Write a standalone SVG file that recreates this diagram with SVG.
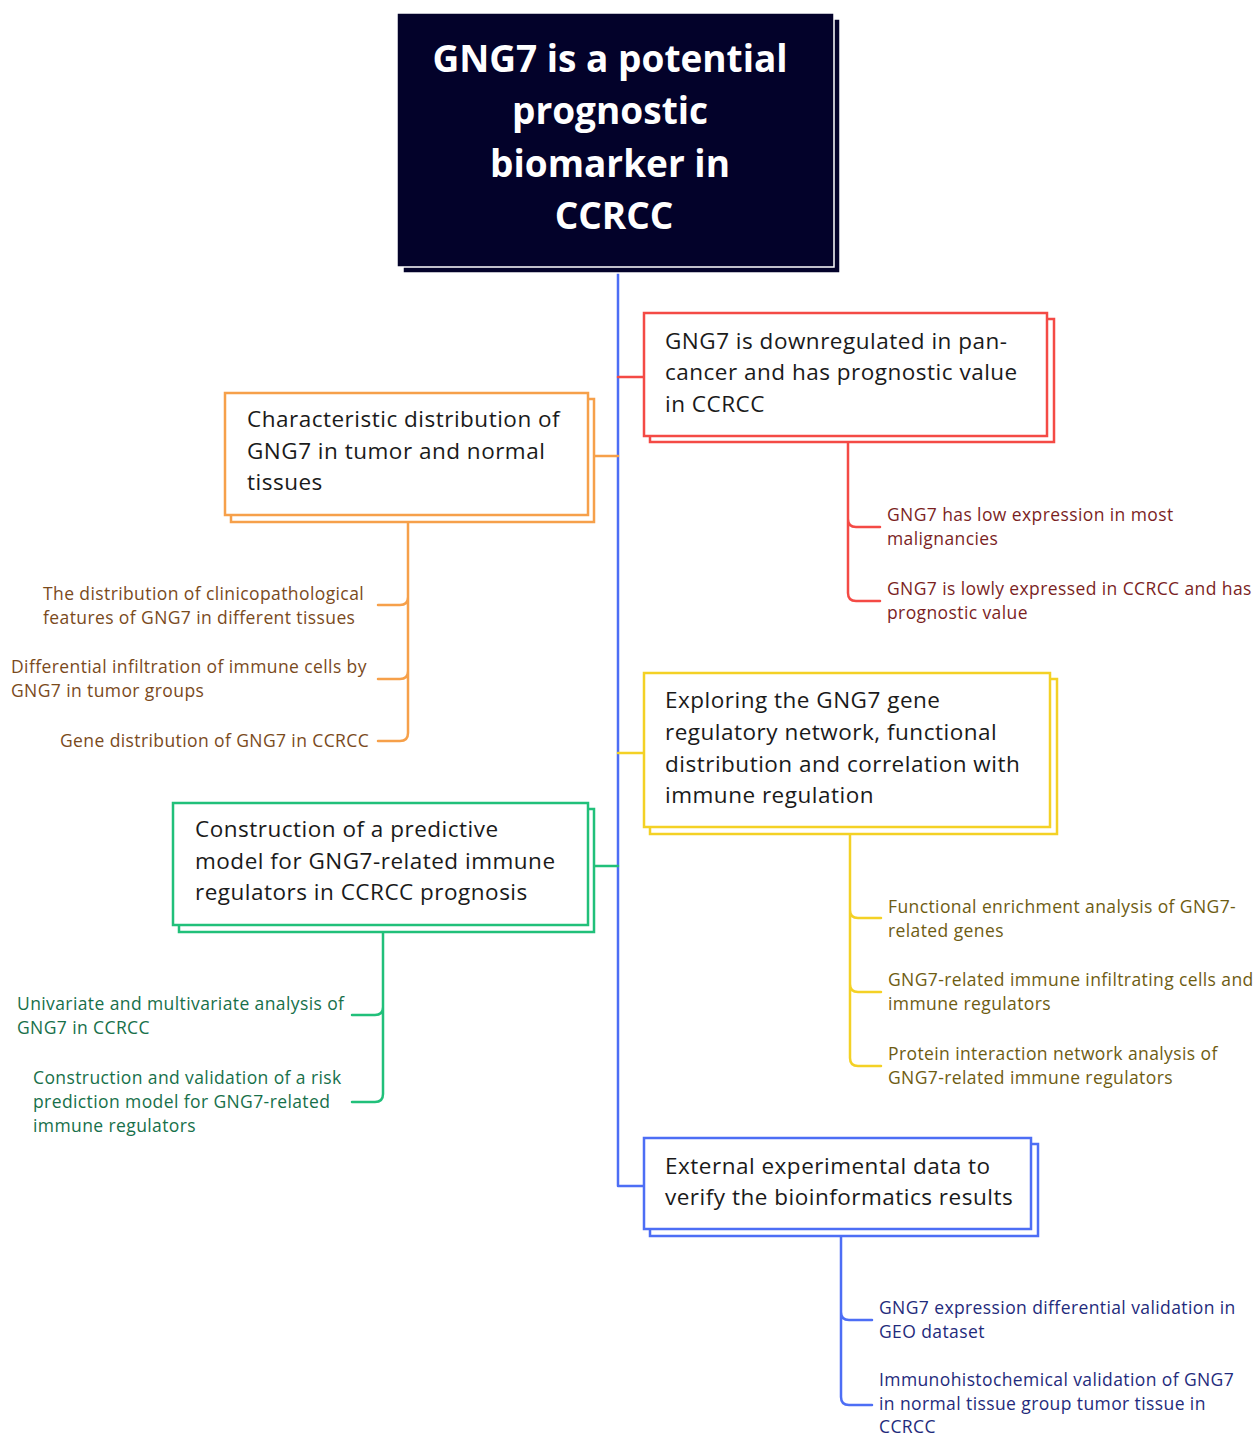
<svg xmlns="http://www.w3.org/2000/svg" width="1257" height="1438" viewBox="0 0 1257 1438">
<style>
text{font-family:"Open Sans","Noto Sans","Liberation Sans",sans-serif;}
.title{font-size:37px;font-weight:700;fill:#ffffff;text-anchor:middle;}
.main{font-size:22.5px;letter-spacing:0.5px;fill:#1a1a1a;}
.sub{font-size:17.5px;letter-spacing:0.4px;}
.ln{fill:none;stroke-width:2.5;stroke-linecap:round;stroke-linejoin:round;}
.box{fill:#ffffff;stroke-width:2.5;}
</style>
<rect width="1257" height="1438" fill="#ffffff"/>
<g id="connectors">
  <path class="ln" stroke="#4d6ef5" d="M618,271 V1186 H644"/>
  <path class="ln" stroke="#f44a45" d="M618,377 H644"/>
  <path class="ln" stroke="#f6a04a" d="M618,456 H594"/>
  <path class="ln" stroke="#f4d125" d="M618,753 H644"/>
  <path class="ln" stroke="#21c07a" d="M618,866 H594"/>
  <path class="ln" stroke="#f44a45" d="M848,443 V519 Q848,527 856,527 H880 M848,519 V593 Q848,601 856,601 H880"/>
  <path class="ln" stroke="#f6a04a" d="M408,522 V597 Q408,605 400,605 H378 M408,597 V671 Q408,679 400,679 H378 M408,671 V733 Q408,741 400,741 H378"/>
  <path class="ln" stroke="#f4d125" d="M850,834 V910 Q850,918 858,918 H881 M850,910 V984 Q850,992 858,992 H881 M850,984 V1058 Q850,1066 858,1066 H881"/>
  <path class="ln" stroke="#21c07a" d="M383,932 V1007 Q383,1015 375,1015 H352 M383,1007 V1094 Q383,1102 375,1102 H352"/>
  <path class="ln" stroke="#4d6ef5" d="M841,1236 V1312 Q841,1320 849,1320 H872 M841,1312 V1397 Q841,1405 849,1405 H872"/>
</g>
<g id="root">
  <rect x="403" y="19" width="437" height="254" fill="#03022a" stroke="#ffffff" stroke-width="1.5"/>
  <rect x="397" y="13" width="437" height="254" fill="#03022a" stroke="#ffffff" stroke-width="1.5"/>
  <text class="title" x="610" y="72">GNG7 is a potential</text>
  <text class="title" x="610" y="124">prognostic</text>
  <text class="title" x="610" y="177">biomarker in</text>
  <text class="title" x="614" y="229">CCRCC</text>
</g>
<g id="node-red">
  <rect class="box" x="650" y="319" width="404" height="123" stroke="#f44a45"/>
  <rect class="box" x="644" y="313" width="403" height="123" stroke="#f44a45"/>
  <text class="main" x="665" y="349">GNG7 is downregulated in pan-</text>
  <text class="main" x="665" y="380">cancer and has prognostic value</text>
  <text class="main" x="665" y="412">in CCRCC</text>
</g>
<g id="red-child-1"><text class="sub" fill="#7b1f1f" x="887" y="521">GNG7 has low expression in most</text><text class="sub" fill="#7b1f1f" x="887" y="545">malignancies</text></g>
<g id="red-child-2"><text class="sub" fill="#7b1f1f" x="887" y="595">GNG7 is lowly expressed in CCRCC and has</text><text class="sub" fill="#7b1f1f" x="887" y="619">prognostic value</text></g>
<g id="node-orange">
  <rect class="box" x="231" y="399" width="363" height="123" stroke="#f6a04a"/>
  <rect class="box" x="225" y="393" width="363" height="122" stroke="#f6a04a"/>
  <text class="main" x="247" y="427">Characteristic distribution of</text>
  <text class="main" x="247" y="459">GNG7 in tumor and normal</text>
  <text class="main" x="247" y="490">tissues</text>
</g>
<g id="orange-child-1"><text class="sub" fill="#7a4a1c" x="43" y="600">The distribution of clinicopathological</text><text class="sub" fill="#7a4a1c" x="43" y="624">features of GNG7 in different tissues</text></g>
<g id="orange-child-2"><text class="sub" fill="#7a4a1c" x="11" y="673">Differential infiltration of immune cells by</text><text class="sub" fill="#7a4a1c" x="11" y="697">GNG7 in tumor groups</text></g>
<g id="orange-child-3"><text class="sub" fill="#7a4a1c" x="60" y="747">Gene distribution of GNG7 in CCRCC</text></g>
<g id="node-yellow">
  <rect class="box" x="650" y="679" width="407" height="155" stroke="#f4d125"/>
  <rect class="box" x="644" y="673" width="406" height="154" stroke="#f4d125"/>
  <text class="main" x="665" y="708">Exploring the GNG7 gene</text>
  <text class="main" x="665" y="740">regulatory network, functional</text>
  <text class="main" x="665" y="772">distribution and correlation with</text>
  <text class="main" x="665" y="803">immune regulation</text>
</g>
<g id="yellow-child-1"><text class="sub" fill="#6e5c12" x="888" y="913">Functional enrichment analysis of GNG7-</text><text class="sub" fill="#6e5c12" x="888" y="937">related genes</text></g>
<g id="yellow-child-2"><text class="sub" fill="#6e5c12" x="888" y="986">GNG7-related immune infiltrating cells and</text><text class="sub" fill="#6e5c12" x="888" y="1010">immune regulators</text></g>
<g id="yellow-child-3"><text class="sub" fill="#6e5c12" x="888" y="1060">Protein interaction network analysis of</text><text class="sub" fill="#6e5c12" x="888" y="1084">GNG7-related immune regulators</text></g>
<g id="node-green">
  <rect class="box" x="179" y="809" width="415" height="123" stroke="#21c07a"/>
  <rect class="box" x="173" y="803" width="415" height="122" stroke="#21c07a"/>
  <text class="main" x="195" y="837">Construction of a predictive</text>
  <text class="main" x="195" y="869">model for GNG7-related immune</text>
  <text class="main" x="195" y="900">regulators in CCRCC prognosis</text>
</g>
<g id="green-child-1"><text class="sub" fill="#17704a" x="17" y="1010">Univariate and multivariate analysis of</text><text class="sub" fill="#17704a" x="17" y="1034">GNG7 in CCRCC</text></g>
<g id="green-child-2"><text class="sub" fill="#17704a" x="33" y="1084">Construction and validation of a risk</text><text class="sub" fill="#17704a" x="33" y="1108">prediction model for GNG7-related</text><text class="sub" fill="#17704a" x="33" y="1132">immune regulators</text></g>
<g id="node-blue">
  <rect class="box" x="650" y="1144" width="388" height="92" stroke="#4d6ef5"/>
  <rect class="box" x="644" y="1138" width="387" height="91" stroke="#4d6ef5"/>
  <text class="main" x="665" y="1174">External experimental data to</text>
  <text class="main" x="665" y="1205">verify the bioinformatics results</text>
</g>
<g id="blue-child-1"><text class="sub" fill="#1f2b7c" x="879" y="1314">GNG7 expression differential validation in</text><text class="sub" fill="#1f2b7c" x="879" y="1338">GEO dataset</text></g>
<g id="blue-child-2"><text class="sub" fill="#1f2b7c" x="879" y="1386">Immunohistochemical validation of GNG7</text><text class="sub" fill="#1f2b7c" x="879" y="1410">in normal tissue group tumor tissue in</text><text class="sub" fill="#1f2b7c" x="879" y="1433">CCRCC</text></g>
</svg>
